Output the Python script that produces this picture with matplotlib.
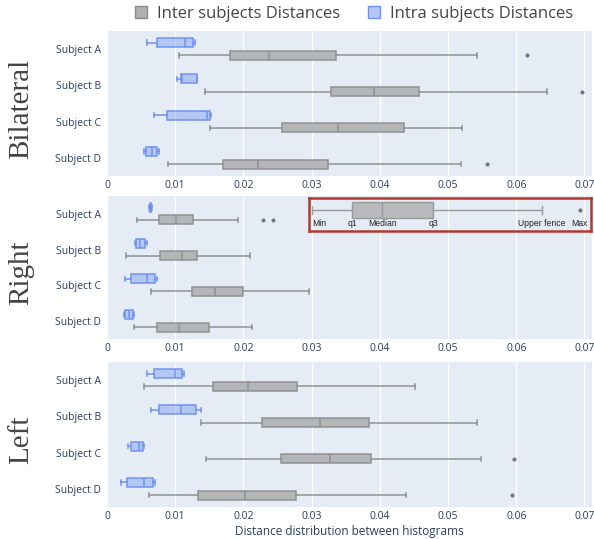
import matplotlib.pyplot as plt
from matplotlib.patches import Patch

subjects = ['Subject A', 'Subject B', 'Subject C', 'Subject D']
regions = ['Bilateral', 'Right', 'Left']
x_ticks = [0, 0.01, 0.02, 0.03, 0.04, 0.05, 0.06, 0.07]
x_tick_labels = ['0', '0.01', '0.02', '0.03', '0.04', '0.05', '0.06', '0.07']

# Five-number summaries per subject: [lower whisker, q1, median, q3, upper whisker]
bilateral_intra = [[0.0059, 0.00735, 0.0114, 0.01257, 0.0129],
                   [0.0102, 0.0109, 0.0110, 0.0132, 0.0132],
                   [0.00686, 0.00876, 0.01467, 0.01515, 0.0152],
                   [0.00549, 0.00574, 0.00662, 0.00735, 0.00764]]
bilateral_inter = [[0.0105, 0.0181, 0.0238, 0.0336, 0.0543],
                   [0.0143, 0.0329, 0.0392, 0.0457, 0.0645],
                   [0.01515, 0.02565, 0.0338, 0.0435, 0.0521],
                   [0.0089, 0.01696, 0.0222, 0.0324, 0.0519]]
bilateral_inter_outliers = [[0.0616], [0.0696], [], [0.0557]]

right_intra = [[0.0062, 0.0063, 0.0064, 0.0065, 0.0066],
               [0.00413, 0.00427, 0.0049, 0.0056, 0.00593],
               [0.00266, 0.00349, 0.00593, 0.00705, 0.00739],
               [0.00252, 0.00266, 0.00319, 0.00378, 0.00398]]
right_inter = [[0.00437, 0.00759, 0.01013, 0.01266, 0.01925],
               [0.00276, 0.00773, 0.01095, 0.0132, 0.0210],
               [0.0065, 0.0124, 0.01579, 0.0200, 0.02965],
               [0.00403, 0.0074, 0.0106, 0.01496, 0.0213]]
right_inter_outliers = [[0.0229, 0.0243], [], [], []]

left_intra = [[0.00593, 0.0069, 0.00993, 0.0110, 0.01135],
              [0.0065, 0.00759, 0.01086, 0.01306, 0.01373],
              [0.00315, 0.00349, 0.00466, 0.00525, 0.0054],
              [0.00208, 0.0029, 0.0054, 0.0067, 0.00705]]
left_inter = [[0.00549, 0.0155, 0.0207, 0.02785, 0.0451],
              [0.01373, 0.0227, 0.0312, 0.0384, 0.0542],
              [0.01452, 0.0255, 0.0327, 0.0387, 0.0549],
              [0.00612, 0.0134, 0.0202, 0.0277, 0.0438]]
left_inter_outliers = [[], [], [0.0596], [0.0594]]

# Key explaining the box elements
key_summary = [0.03005, 0.03594, 0.04034, 0.04785, 0.06376]
key_max = [0.0693]
key_labels = ['Min', 'q1', 'Median', 'q3', 'Upper fence', 'Max']

intra_data = [bilateral_intra, right_intra, left_intra]
inter_data = [bilateral_inter, right_inter, left_inter]
inter_outliers = [bilateral_inter_outliers, right_inter_outliers, left_inter_outliers]

BG = '#E5ECF6'
TXT = '#2a3f5f'
BLUE_EDGE = '#7093f0'
BLUE_FILL = (0.52, 0.64, 0.95, 0.5)
GRAY_EDGE = '#919191'
GRAY_FILL = '#b4b5b8'
X_MAX = 0.0711

W, H = 594, 539
fig = plt.figure(figsize=(W / 100, H / 100), dpi=100)
plt.rcParams['font.family'] = ['Open Sans', 'DejaVu Sans']


def to_stats(summary, outliers=()):
    lo, q1, med, q3, hi = summary
    return dict(whislo=lo, q1=q1, med=med, q3=q3, whishi=hi, fliers=list(outliers))


def draw_boxes(ax, stats, positions, edge, fill, lw=1.1, width=0.25):
    ax.bxp(stats, positions=positions, widths=width, capwidths=width * 0.5,
           orientation='horizontal', patch_artist=True, showfliers=True,
           boxprops=dict(facecolor=fill, edgecolor=edge, linewidth=lw),
           medianprops=dict(color=edge, linewidth=lw),
           whiskerprops=dict(color=edge, linewidth=lw),
           capprops=dict(color=edge, linewidth=lw),
           flierprops=dict(marker='o', markersize=2.0, markerfacecolor='#7a7a7a',
                           markeredgecolor='#7a7a7a', linestyle='none'))


# panel extents in pixels (top, bottom)
panel_px = [(31, 176), (196, 339), (362, 507)]
left_px, right_px = 107, 592

for i, (top, bot) in enumerate(panel_px):
    ax = fig.add_axes([left_px / W, 1 - bot / H, (right_px - left_px) / W, (bot - top) / H])
    ax.set_facecolor(BG)
    for s in ax.spines.values():
        s.set_visible(False)
    ax.set_axisbelow(True)
    ax.grid(axis='x', color='white', linewidth=1.0)
    ax.grid(axis='y', visible=False)

    pos = list(range(len(subjects)))
    intra_stats = [to_stats(s) for s in intra_data[i]]
    inter_stats = [to_stats(s, o) for s, o in zip(inter_data[i], inter_outliers[i])]
    draw_boxes(ax, intra_stats, [p - 0.18 for p in pos], BLUE_EDGE, BLUE_FILL)
    draw_boxes(ax, inter_stats, [p + 0.17 for p in pos], GRAY_EDGE, GRAY_FILL)

    ax.set_xlim(0, X_MAX)
    ax.set_ylim(len(subjects) - 0.5, -0.5)
    ax.set_yticks(pos)
    ax.set_yticklabels(subjects)
    ax.set_xticks(x_ticks)
    ax.set_xticklabels(x_tick_labels)
    ax.tick_params(axis='both', length=0, labelsize=7.5, colors=TXT)
    ax.tick_params(axis='y', pad=4)
    ax.tick_params(axis='x', pad=3)

    fig.text(21 / W, 1 - ((top + bot) / 2 + 5) / H, regions[i], rotation=90,
             ha='center', va='center', fontsize=21, color='#444444',
             family=['Liberation Serif', 'DejaVu Serif'])

    if i == 2:
        ax.set_xlabel('Distance distribution between histograms', fontsize=8.5,
                      color=TXT, labelpad=2)

    if i == 1:
        k_left, k_right, k_top, k_bot = 309, 591, 197.5, 230.5
        kax = fig.add_axes([k_left / W, 1 - k_bot / H, (k_right - k_left) / W,
                            (k_bot - k_top) / H])
        kax.set_facecolor('none')
        draw_boxes(kax, [to_stats(key_summary, key_max)], [0.38], '#9a9a9a',
                   '#b8b9bc', lw=1.0, width=0.5)
        kax.set_xlim((k_left - left_px) / (right_px - left_px) * X_MAX,
                     (k_right - left_px) / (right_px - left_px) * X_MAX)
        kax.set_ylim(1, 0)
        kax.set_xticks([])
        kax.set_yticks([])
        for s in kax.spines.values():
            s.set_color('#b23a2c')
            s.set_linewidth(1.8)
        key_x = key_summary + key_max
        for j, (xv, lab) in enumerate(zip(key_x, key_labels)):
            kax.text(xv, 0.8, lab, ha='left' if j == 0 else 'center', va='center',
                     fontsize=6.2, color='#222222',
                     family=['Liberation Sans', 'DejaVu Sans'])

handles = [Patch(facecolor='#b0b0b0', edgecolor='#8a8a8a', linewidth=1.0),
           Patch(facecolor=(0.52, 0.64, 0.95, 0.6), edgecolor=BLUE_EDGE, linewidth=1.0)]
fig.legend(handles, ['Inter subjects Distances', 'Intra subjects Distances'],
           loc='center', bbox_to_anchor=(354 / W, 1 - 14 / H), ncol=2, frameon=False,
           fontsize=12, handlelength=0.7, handleheight=0.7, handletextpad=0.6,
           columnspacing=1.7, labelcolor='#444444')

fig.savefig('out.png', dpi=100)
